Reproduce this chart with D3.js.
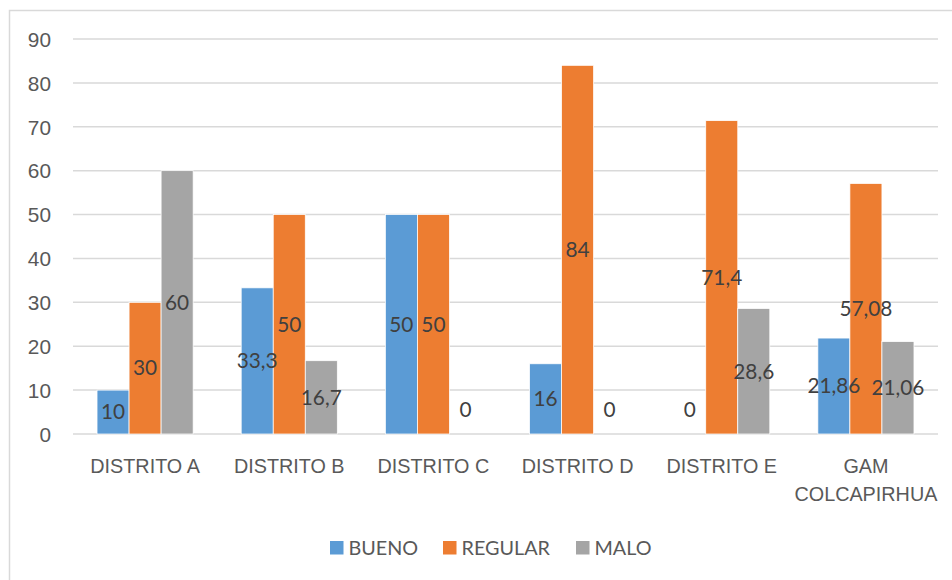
<!DOCTYPE html>
<html>
<head>
<meta charset="utf-8">
<script src="https://cdn.jsdelivr.net/npm/d3@7"></script>
<style>
html,body{margin:0;padding:0;background:#fff;}
svg{display:block;font-family:Lato, "Open Sans", sans-serif;}
</style>
</head>
<body>
<svg id="chart" width="952" height="580"></svg>
<script>
const categories = ["DISTRITO A","DISTRITO B","DISTRITO C","DISTRITO D","DISTRITO E","GAM COLCAPIRHUA"];
const seriesNames = ["BUENO","REGULAR","MALO"];
const bueno = [10, 33.3, 50, 16, 0, 21.86];
const regular = [30, 50, 50, 84, 71.4, 57.08];
const malo = [60, 16.7, 0, 0, 28.6, 21.06];
const yTicks = [0,10,20,30,40,50,60,70,80,90];
const colors = ["#5B9BD5","#ED7D31","#A5A5A5"];

const seriesValues = [bueno, regular, malo];
const svg = d3.select("#chart");
const fontSize = 19.8;

// chart border
svg.append("path").attr("d","M9.5,580 L9.5,10.5 L952,10.5")
  .attr("fill","none").attr("stroke","#D9D9D9").attr("stroke-width",1.5);

const x0 = d3.scaleBand().domain(categories).range([73,938]).paddingInner(1/3).paddingOuter(1/6);
const x1 = d3.scaleBand().domain(seriesNames).range([0, x0.bandwidth()]);
const y = d3.scaleLinear().domain([0,90]).range([434,39]);

// gridlines
svg.append("g").selectAll("line").data(yTicks).join("line")
  .attr("x1",73).attr("x2",938)
  .attr("y1",d=>y(d)).attr("y2",d=>y(d))
  .attr("stroke","#D9D9D9").attr("stroke-width",1.5);

// y axis
const yAxis = d3.axisLeft(y).tickValues(yTicks).tickSize(0).tickPadding(0).tickFormat(d3.format("d"));
const yg = svg.append("g").attr("transform","translate(51,0)").call(yAxis);
yg.select(".domain").remove();
yg.selectAll("text").attr("fill","#595959").style("font-size",(fontSize+1)+"px").attr("font-family",null)
  .attr("dy","0.35em");

// x axis labels
const xAxis = d3.axisBottom(x0).tickSize(0).tickPadding(0).tickFormat("");
const xg = svg.append("g").attr("transform","translate(0,434)").call(xAxis);
xg.select(".domain").remove();
xg.selectAll(".tick").each(function(d){
  const t = d3.select(this).append("text").attr("fill","#595959").style("font-size",fontSize+"px")
    .attr("text-anchor","middle");
  const lines = d === "GAM COLCAPIRHUA" ? ["GAM","COLCAPIRHUA"] : [d];
  lines.forEach((ln,i)=>{
    t.append("tspan").attr("x",0).attr("y",39 + i*28).text(ln);
  });
});

// bars
const data = [];
categories.forEach((c,i)=>{
  seriesNames.forEach((s,j)=>{
    data.push({cat:c, ser:s, v:seriesValues[j][i], color:colors[j]});
  });
});

const fmt = v => String(v).replace(".", ",");

svg.append("g").selectAll("rect").data(data).join("rect")
  .attr("x",d=>x0(d.cat)+x1(d.ser))
  .attr("y",d=>y(d.v))
  .attr("width",x1.bandwidth())
  .attr("height",d=>y(0)-y(d.v))
  .attr("fill",d=>d.color)
  .attr("stroke","#fff").attr("stroke-width",0.75);

svg.append("g").selectAll("text").data(data).join("text")
  .attr("x",d=>x0(d.cat)+x1(d.ser)+x1.bandwidth()/2)
  .attr("y",d=> d.v===0 ? y(0)-24 : (y(d.v)+y(0))/2)
  .attr("dy","0.35em")
  .attr("text-anchor","middle")
  .attr("fill","#404040")
  .style("font-size",(fontSize+1)+"px")
  .text(d=>fmt(d.v));

// legend
const legendX = [330, 443, 576];
const lg = svg.append("g");
seriesNames.forEach((s,j)=>{
  lg.append("rect").attr("x",legendX[j]).attr("y",541).attr("width",13.5).attr("height",13.5).attr("fill",colors[j]);
  lg.append("text").attr("x",legendX[j]+18.5).attr("y",555).attr("fill","#595959")
    .style("font-size",fontSize+"px").text(s);
});
</script>
</body>
</html>
